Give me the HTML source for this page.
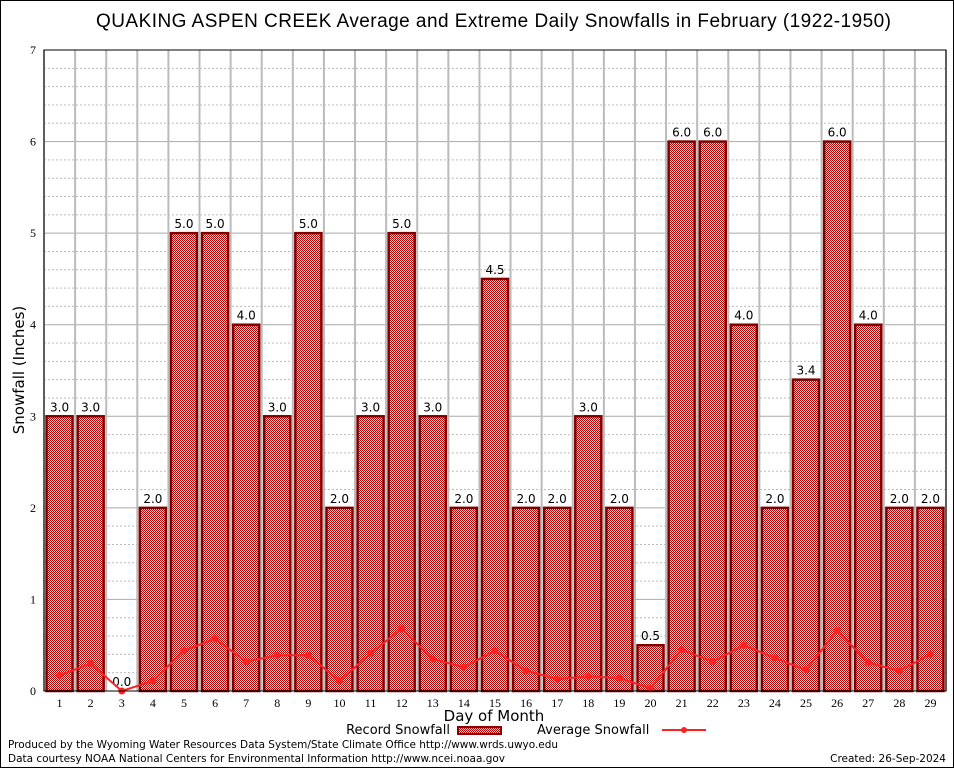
<!DOCTYPE html>
<html><head><meta charset="utf-8"><style>
body{margin:0;background:#fff;font-family:"DejaVu Sans","Liberation Sans",sans-serif}
</style></head><body>
<svg id="c" width="954" height="768" xmlns="http://www.w3.org/2000/svg">
<defs>
<pattern id="chk" width="2" height="2" patternUnits="userSpaceOnUse">
<rect width="2" height="2" fill="#f4dede"/><rect width="1" height="1" fill="#c00000"/><rect x="1" y="1" width="1" height="1" fill="#c00000"/>
</pattern>
</defs>
<rect x="0.5" y="0.5" width="953" height="767" fill="#fff" stroke="#000"/>
<text x="96" y="27" font-size="19" textLength="795" font-family="Liberation Sans, sans-serif">QUAKING ASPEN CREEK Average and Extreme Daily Snowfalls in February (1922-1950)</text>
<g id="grid"></g>
<g id="bars"></g>
<g id="line"></g>
<g id="axes"></g>
<text x="24" y="370" font-size="15" text-anchor="middle" transform="rotate(-90 24 370)">Snowfall (Inches)</text>
<text x="494" y="721" font-size="15" text-anchor="middle">Day of Month</text>
<g>
<text x="450" y="734" font-size="13" text-anchor="end">Record Snowfall</text>
<rect x="458" y="727" width="43" height="7" fill="url(#chk)" stroke="#8b0000" stroke-width="2"/>
<text x="537" y="734" font-size="13">Average Snowfall</text>
<line x1="662" y1="730" x2="706" y2="730" stroke="#ff2020" stroke-width="2"/>
<circle cx="684" cy="730" r="3" fill="#ff2020"/>
</g>
<text x="8" y="748" font-size="10.5" textLength="550">Produced by the Wyoming Water Resources Data System/State Climate Office http://www.wrds.uwyo.edu</text>
<text x="8" y="762" font-size="10.5" textLength="497">Data courtesy NOAA National Centers for Environmental Information http://www.ncei.noaa.gov</text>
<text x="946" y="762" font-size="10.5" text-anchor="end">Created:  26-Sep-2024</text>
</svg>
<script>
const days=[1,2,3,4,5,6,7,8,9,10,11,12,13,14,15,16,17,18,19,20,21,22,23,24,25,26,27,28,29];
const records=[3.0,3.0,0.0,2.0,5.0,5.0,4.0,3.0,5.0,2.0,3.0,5.0,3.0,2.0,4.5,2.0,2.0,3.0,2.0,0.5,6.0,6.0,4.0,2.0,3.4,6.0,4.0,2.0,2.0];
const averages=[0.17,0.3,0.0,0.11,0.44,0.57,0.32,0.39,0.39,0.11,0.41,0.68,0.35,0.26,0.44,0.22,0.13,0.16,0.14,0.03,0.45,0.32,0.5,0.36,0.23,0.66,0.31,0.22,0.4];
const yTicks=[0,1,2,3,4,5,6,7];
const L=44,R=946,T=50,B=691,YMAX=7;
const slot=(R-L)/days.length;
const xs=i=>L+slot*(i+0.5);
const ys=v=>B-(v/YMAX)*(B-T);
const NS='http://www.w3.org/2000/svg';
function mk(tag,attrs,parent,txt){const e=document.createElementNS(NS,tag);for(const k in attrs)e.setAttribute(k,attrs[k]);if(txt!==undefined)e.textContent=txt;parent.appendChild(e);return e;}
const g=document.getElementById('grid'),gb=document.getElementById('bars'),gl=document.getElementById('line'),ga=document.getElementById('axes');
for(let v=0.2;v<YMAX;v+=0.2){const y=ys(v);const major=Math.abs(v-Math.round(v))<1e-6;
const ln=mk('line',{x1:L,x2:R,y1:y,y2:y,stroke:major?'#aaa':'#bbb','stroke-width':1,'stroke-dasharray':major?'':'2,2'},g);

}
for(let i=0;i<=days.length;i++){const x=L+slot*i;
const ln=mk('line',{x1:x,x2:x,y1:T,y2:B,stroke:'#bbb','stroke-width':2},g);

}
records.forEach((v,i)=>{const x=xs(i)-13,y=ys(v);
if(v>0){const r=mk('rect',{x:x,y:y,width:26,height:B-y,fill:'url(#chk)',stroke:'#800000','stroke-width':2.5},gb);

}
const t=mk('text',{x:xs(i),y:y-5,'font-size':12,'text-anchor':'middle'},gb,v.toFixed(1));

});
const pts=averages.map((v,i)=>xs(i)+','+ys(v)).join(' ');
const pl=mk('polyline',{points:pts,fill:'none',stroke:'#ff2020','stroke-width':2},gl);


averages.forEach((v,i)=>{const c=mk('circle',{cx:xs(i),cy:ys(v),r:3.5,fill:'#ff2020'},gl);

});
const ax=mk('rect',{x:L,y:T,width:R-L,height:B-T,fill:'none',stroke:'#000','stroke-width':1},ga);


yTicks.forEach(v=>{const t=mk('text',{x:L-8,y:ys(v)+4,'font-size':12,'text-anchor':'end','font-family':'Liberation Serif, serif'},ga,String(v));

});
days.forEach((d,i)=>{const t=mk('text',{x:xs(i),y:707,'font-size':12,'text-anchor':'middle','font-family':'Liberation Serif, serif'},ga,String(d));

});
</script>
</body></html>
